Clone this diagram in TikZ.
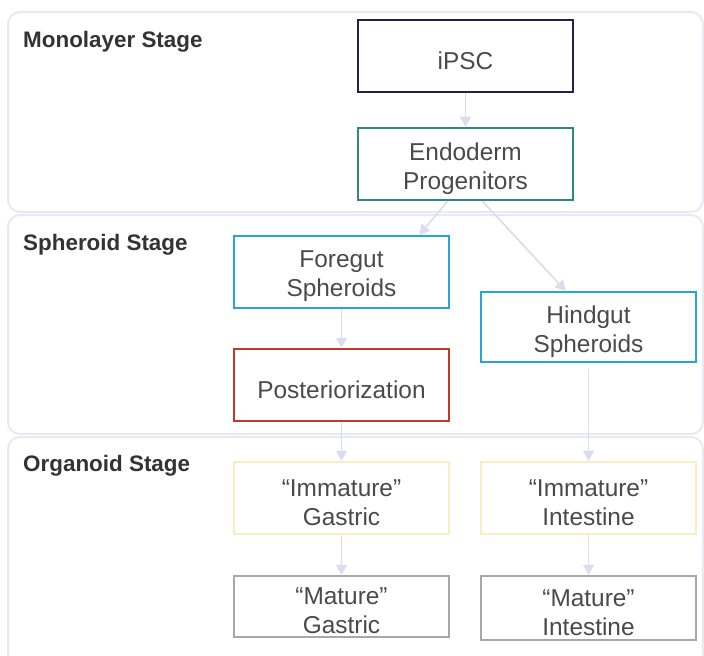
\documentclass[tikz,border=0pt]{standalone}
\usepackage{fontspec}
\setmainfont{Liberation Sans}
\usetikzlibrary{arrows.meta}
\definecolor{stageline}{HTML}{E9E9F3}
\definecolor{arrowc}{HTML}{DCDCEE}
\definecolor{cnavy}{HTML}{231F52}
\definecolor{cteal}{HTML}{2E8A74}
\definecolor{cblue}{HTML}{29A3DC}
\definecolor{cred}{HTML}{C0392B}
\definecolor{cyellow}{HTML}{F9EDC4}
\definecolor{cgray}{HTML}{A8A8A8}
\definecolor{txt}{HTML}{4A4A4A}
\definecolor{lbl}{HTML}{333333}
\tikzset{
  stagebox/.style={draw=stageline, line width=2bp, rounded corners=12bp, fill=white},
  stagelabel/.style={anchor=base west, inner sep=0pt, text=lbl, font=\fontsize{22.5}{26}\selectfont\bfseries},
  nbox/.style={draw, line width=2.5bp, fill=white, minimum width=215bp, minimum height=72bp, inner sep=0pt},
  ntext/.style={align=center, inner sep=0pt, yshift=-4.5bp, text=txt, font=\fontsize{24.5}{29}\selectfont},
  flow/.style={draw=arrowc, line width=1.6bp, -{Triangle[length=10bp,width=11bp]}, arrowc}
}
\begin{document}
\begin{tikzpicture}[x=1bp,y=-1bp]
\useasboundingbox (0,0) rectangle (704,656);
\clip (0,0) rectangle (704,656);
% stage backgrounds
\draw[stagebox] (8,12) rectangle (703,212);
\draw[stagebox] (8,215) rectangle (703,434);
\draw[stagebox] (8,437) rectangle (703,680);
\node[stagelabel] (l1) at (23,48) {Monolayer Stage};
\node[stagelabel] (l2) at (23,250) {Spheroid Stage};
\node[stagelabel] (l3) at (23,471) {Organoid Stage};
% nodes
\node[nbox, draw=cnavy, label={[ntext]center:iPSC}] (ipsc) at (465.5,56) {};
\node[nbox, draw=cteal, label={[ntext]center:Endoderm\\Progenitors}] (endo) at (465.5,164) {};
\node[nbox, draw=cblue, label={[ntext]center:Foregut\\Spheroids}] (fore) at (341.5,272) {};
\node[nbox, draw=cblue, minimum height=70bp, label={[ntext]center:Hindgut\\Spheroids}] (hind) at (588.5,327) {};
\node[nbox, draw=cred, label={[ntext]center:Posteriorization}] (post) at (341.5,385) {};
\node[nbox, draw=cyellow, label={[ntext]center:“Immature”\\Gastric}] (imgas) at (341.5,498) {};
\node[nbox, draw=cyellow, label={[ntext]center:“Immature”\\Intestine}] (imint) at (588.5,498) {};
\node[nbox, draw=cgray, minimum height=61bp, label={[ntext]center:“Mature”\\Gastric}] (magas) at (341.5,606.5) {};
\node[nbox, draw=cgray, minimum height=64bp, label={[ntext]center:“Mature”\\Intestine}] (maint) at (588.5,608) {};
% connectors
\draw[flow] (ipsc) -- (endo);
\draw[flow] ([xshift=-18bp]endo.south) -- ([xshift=78bp]fore.north);
\draw[flow] ([xshift=17bp]endo.south) -- ([xshift=-23bp]hind.north);
\draw[flow] (fore) -- (post);
\draw[flow] (post) -- (imgas);
\draw[flow, shorten <=5bp] (hind) -- (imint);
\draw[flow] (imgas) -- (magas);
\draw[flow] (imint) -- (maint);
\end{tikzpicture}
\end{document}
